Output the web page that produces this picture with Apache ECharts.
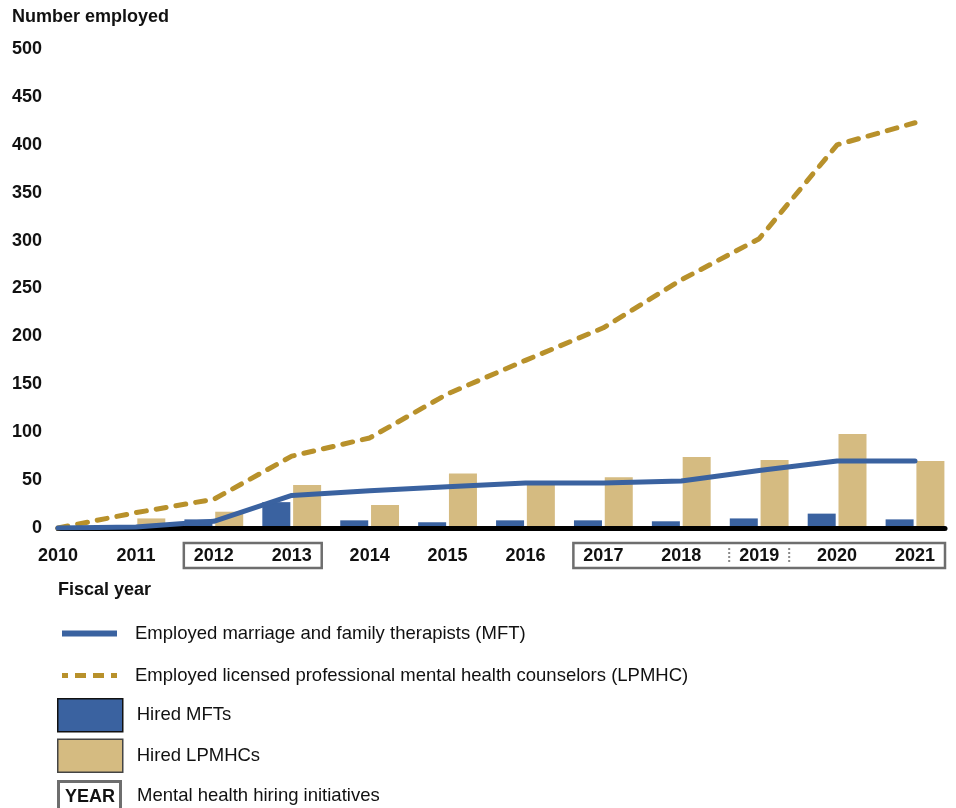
<!DOCTYPE html>
<html>
<head>
<meta charset="utf-8">
<script src="https://cdn.jsdelivr.net/npm/echarts@6/dist/echarts.min.js"></script>
<style>
html,body{margin:0;padding:0;background:#fff;}
#chart{width:956px;height:808px;}
</style>
</head>
<body>
<div id="chart"></div>
<script>
// ---- data ----
const years = [2010, 2011, 2012, 2013, 2014, 2015, 2016, 2017, 2018, 2019, 2020, 2021];
const employedMFT = [0, 1, 7, 34, 39, 43, 47, 47, 49, 60, 70, 70];
const employedLPMHC = [0, 16, 30, 75, 94, 140, 175, 209, 259, 302, 400, 423];
const hiredMFT = [0, 0, 9, 27, 8, 6, 8, 8, 7, 10, 15, 9];
const hiredLPMHC = [0, 10, 17, 45, 24, 57, 46, 53, 74, 71, 98, 70];
const initiativeRanges = [[2012, 2013], [2017, 2021]];
const initiativeDividers = [2019];
const seriesNames = {
  empMFT: 'Employed marriage and family therapists (MFT)',
  empLPMHC: 'Employed licensed professional mental health counselors (LPMHC)',
  hireMFT: 'Hired MFTs',
  hireLPMHC: 'Hired LPMHCs'
};
const initiativeLegend = 'Mental health hiring initiatives';
const initiativeIconText = 'YEAR';
const yAxisTitle = 'Number employed';
const xAxisTitle = 'Fiscal year';

// ---- styles ----
const BLUE = '#3a62a0';
const TAN = '#d5bb81';
const GOLD = '#b8912b';
const TXT = '#111';
const FONT = "'Liberation Sans', Arial, Helvetica, sans-serif";
const LEG_FS = 18.5;

const pairs = arr => years.map((y, i) => [y, arr[i]]);

const chart = echarts.init(document.getElementById('chart'), null, {renderer: 'canvas'});

const option = {
  animation: false,
  backgroundColor: '#fff',
  title: {
    text: yAxisTitle, left: 12, top: 8, padding: 0,
    textStyle: {fontSize: 18, fontWeight: 'bold', color: TXT, fontFamily: FONT}
  },
  grid: {left: 58, right: 11, top: 49, bottom: 280, containLabel: false},
  xAxis: {
    type: 'value', min: 2010, max: 2021.385, interval: 1,
    z: 2,
    axisLine: {show: true, onZero: false, lineStyle: {color: '#000', width: 5}},
    axisTick: {show: false},
    splitLine: {show: false},
    axisLabel: {
      fontSize: 18, fontWeight: 'bold', color: TXT, fontFamily: FONT, margin: 19,
      formatter: v => Number.isInteger(v) ? String(v) : ''
    },
    name: xAxisTitle, nameLocation: 'start', nameGap: 0,
    nameTextStyle: {align: 'left', verticalAlign: 'top', padding: [53, 0, 0, 0],
      fontSize: 18, fontWeight: 'bold', color: TXT, fontFamily: FONT}
  },
  yAxis: {
    type: 'value', min: 0, max: 500, interval: 50,
    axisLine: {show: false}, axisTick: {show: false}, splitLine: {show: false},
    axisLabel: {fontSize: 18, fontWeight: 'bold', color: TXT, fontFamily: FONT, margin: 16}
  },
  legend: [
    {
      orient: 'vertical', left: 59, top: 624, padding: 0,
      itemWidth: 55, itemHeight: 18, itemGap: 23, selectedMode: false,
      textStyle: {fontSize: LEG_FS, fontFamily: FONT, color: TXT, padding: [0, 0, 0, 13]},
      data: [
        {name: seriesNames.empMFT, lineStyle: {width: 6, cap: 'butt'}, itemStyle: {opacity: 0}},
        {name: seriesNames.empLPMHC, lineStyle: {width: 5, type: [11, 7], dashOffset: 5, cap: 'butt'}, itemStyle: {opacity: 0}}
      ]
    },
    {
      orient: 'vertical', left: 57, top: 698, padding: 0,
      itemWidth: 65, itemHeight: 33, itemGap: 6, selectedMode: false, icon: 'rect',
      textStyle: {fontSize: LEG_FS, fontFamily: FONT, color: TXT, padding: [0, 0, 0, 9]},
      data: [
        {name: seriesNames.hireMFT, itemStyle: {borderColor: '#111', borderWidth: 1.5}},
        {name: seriesNames.hireLPMHC, itemStyle: {borderColor: '#444', borderWidth: 1.5}}
      ]
    }
  ],
  series: [
    {
      name: seriesNames.hireMFT, type: 'bar', data: pairs(hiredMFT),
      barWidth: 28, barGap: '10%', z: 1,
      itemStyle: {color: BLUE}
    },
    {
      name: seriesNames.hireLPMHC, type: 'bar', data: pairs(hiredLPMHC),
      barWidth: 28, barGap: '10%', z: 1,
      itemStyle: {color: TAN}
    },
    {
      name: seriesNames.empLPMHC, type: 'line', data: pairs(employedLPMHC),
      symbol: 'none', showSymbol: false, z: 3,
      itemStyle: {color: GOLD},
      lineStyle: {color: GOLD, width: 5, type: [10, 10], cap: 'round', join: 'round'}
    },
    {
      name: seriesNames.empMFT, type: 'line', data: pairs(employedMFT),
      symbol: 'none', showSymbol: false, z: 4,
      itemStyle: {color: BLUE},
      lineStyle: {color: BLUE, width: 5, cap: 'round', join: 'round'}
    }
  ]
};
chart.setOption(option);

// ---- annotations: initiative boxes around axis labels, legend item for them ----
const px = v => chart.convertToPixel({xAxisIndex: 0}, v);
const unit = px(2011) - px(2010);
const y0 = chart.convertToPixel({yAxisIndex: 0}, 0);
const halfBand = 0.385 * unit;
const boxTop = y0 + 15, boxH = 25;
const graphics = [];
initiativeRanges.forEach(([a, b]) => {
  const x1 = px(a) - halfBand, x2 = px(b) + halfBand;
  graphics.push({type: 'rect', silent: true, z: 10,
    shape: {x: x1, y: boxTop, width: x2 - x1, height: boxH},
    style: {fill: 'none', stroke: '#6e6e6e', lineWidth: 2.5}});
});
initiativeDividers.forEach(yr => {
  [px(yr) - halfBand, px(yr) + halfBand].forEach(x => {
    graphics.push({type: 'line', silent: true, z: 10,
      shape: {x1: x, y1: boxTop + 5, x2: x, y2: boxTop + boxH - 4},
      style: {stroke: '#8a8a8a', lineWidth: 2, lineDash: [2, 2]}});
  });
});
// legend entry for initiatives
graphics.push({
  type: 'group', left: 57, top: 780, silent: true,
  children: [
    {type: 'rect', shape: {x: 1.5, y: 1.5, width: 62, height: 36},
      style: {fill: '#fff', stroke: '#6e6e6e', lineWidth: 3}},
    {type: 'text', x: 33, y: 17, style: {text: initiativeIconText, align: 'center', verticalAlign: 'middle',
      font: "bold 18px " + FONT, fill: TXT}},
    {type: 'text', x: 80, y: 16, style: {text: initiativeLegend, align: 'left', verticalAlign: 'middle',
      font: LEG_FS + "px " + FONT, fill: TXT}}
  ]
});
chart.setOption({graphic: graphics});
</script>
</body>
</html>
